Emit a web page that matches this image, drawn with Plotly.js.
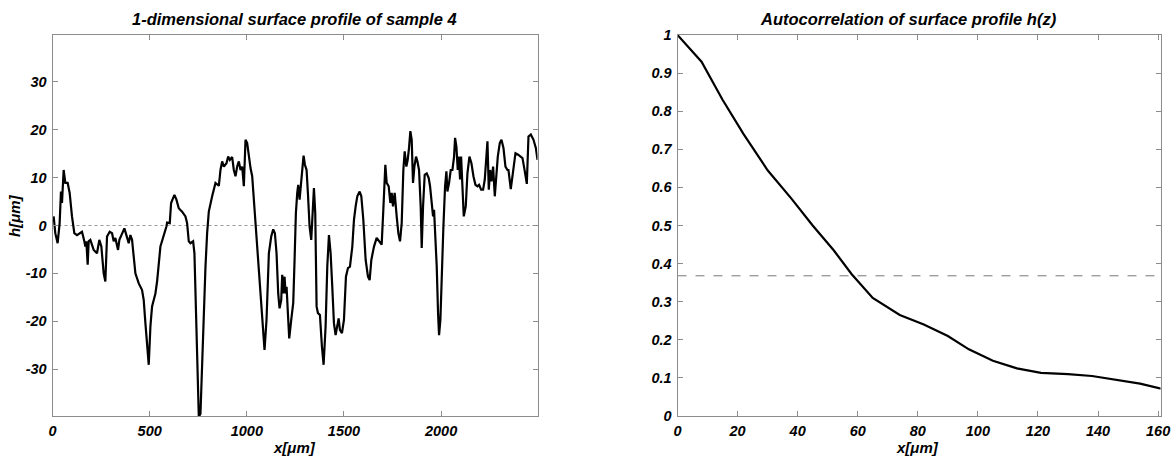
<!DOCTYPE html>
<html>
<head>
<meta charset="utf-8">
<script src="https://cdn.plot.ly/plotly-3.0.1.min.js"></script>
<style>
html,body{margin:0;padding:0;background:#fff;}
#chart{width:1175px;height:456px;}
</style>
</head>
<body>
<div id="chart"></div>
<script>
// ---- Left panel: 1-D surface profile (x in µm, h in µm)
const profileX = [5.8,14.4,26.4,36.8,43.6,48.8,57.4,66,78,88.3,100.3,112.3,126,151.8,163.8,169,174.1,181,186.2,194.7,212,229,241,251.4,263.4,272,280.6,294.4,306.4,315,323.5,337.3,344.2,357.9,369.9,380.2,392.2,400.8,409.4,426.6,443.8,460.9,469.5,478.1,486.7,495.3,503.9,512.4,529.6,538.2,555.4,572.5,586.3,589.7,603.5,610.3,627.5,637.8,649.8,667,684.2,692.7,701.3,709.9,723.7,730.5,739.1,747.7,752.9,
761.5,770,778.7,787.3,795.8,804.4,821.6,838.8,856,864.5,873.1,881.7,895.4,904,912.6,924.6,933.2,941.8,950.4,959,967.6,976.2,984.7,993.3,1001.9,1010.5,1019.1,1027.7,1044.9,1062,1079.2,1091.2,1101.5,1113.5,1125.6,1135.9,1144.5,1153,1161.6,1168.5,1177.1,1182.2,1187.4,1194.3,1199.4,1204.6,1211.4,1218.3,1228.6,1238.9,1245.8,1252.6,1259.5,1264.7,1271.5,1276.7,1285.2,1292.1,1299,1307.6,1314.4,1323,1331.6,1338.5,1345.4,1352.2,1359.1,1366,1376.3,1386.6,1395.2,1405.5,1414.1,1422.7,1431.3,1439.8,1448.4,1457,1465.6,1472.5,1479.3,1489.6,1499.9,1510.2,1520.5,1530.8,
1542.9,1551.5,1560.1,1568.6,1580.7,1589.3,1599.6,1611.6,1623.6,1632.2,1640.8,1654.5,1668.3,1682,1694,1702.6,1712.9,1719.8,1730.1,1738.7,1745.5,1752.4,1761,1771.3,1779.9,1788.5,1797.1,1805.6,1812.5,1821.1,1828,1834.8,1841.7,1848.6,1855.4,1862.3,1870.9,1877.8,1886.3,1894.9,1900.1,1907,1915.5,1925.8,1936.1,1943,1951.6,1958.5,1963.6,1970.5,1977.4,1984.2,1989.4,1996.3,2003.1,2011.7,2020.3,2027.2,2032.3,2040.9,2049.5,2058.1,2066.7,2071.8,2078.7,2085.6,2090.7,2097.6,2102.8,2109.6,2116.5,2126.8,2135.4,2145.7,2156,2166.3,2176.6,2186.9,2195.5,2205.8,2216.1,2224.7,2231.5,2238.4,2245.3,2252.1,2259,2267.6,2276.2,2283,2291.6,2301.9,2310.5,2320.8,2331.1,
2341.4,2346.5,2358.5,2370.6,2382.6,2396.3,2418.7,2430.7,2441,2449.6,2461.6,2475.4,2487.4,2496];
const profileH = [1.9,-1.6,-3.7,0.5,7.1,4.7,11.6,8.9,8.9,6.8,1.9,-1.6,-2.0,-1.3,-3.3,-4.4,-3.3,-8.2,-3.3,-3.0,-5.1,-5.8,-3.0,-4.4,-10.0,-11.7,-2.3,-1.3,-1.6,-3.3,-2.6,-5.1,-3.0,-1.6,-0.6,-2.0,-3.7,-2.0,-3.0,-10.0,-12.1,-13.5,-15.6,-20.4,-25.3,-29.1,-21.1,-16.9,-14.2,-11.7,-4.4,-2.3,-0.2,0.6,0.5,4.7,6.4,5.4,3.6,2.9,1.9,0.5,-3.3,-3.7,-3.3,-5.8,-17.6,-33.0,-40.0,
-39.3,-28.1,-17.6,-8.6,-1.6,2.9,6.1,8.9,8.3,11.6,13.4,12.3,13.0,14.4,13.7,14.3,11.6,10.3,12.3,13.4,11.6,12.3,8.2,17.9,17.2,14.4,12.0,10.3,0.5,-10.7,-19.7,-26.0,-19.7,-5.8,-2.3,-0.8,-1.6,-5.8,-14.2,-17.3,-15.6,-10.3,-14.2,-10.7,-14.2,-12.8,-18.3,-23.6,-19.7,-16.2,-7.2,2.6,6.8,8.5,5.4,8.2,11.6,14.6,12.7,11.6,6.8,-0.2,-3.0,1.9,7.8,2.6,-16.9,-18.3,-18.7,-25.3,-29.1,-21.1,-8.6,-2.0,-5.8,-12.8,-20.4,-22.9,-21.1,-19.4,-21.8,-22.5,-19.7,-10.7,-8.9,-8.6,
-4.4,1.2,4.0,6.1,7.1,6.1,1.2,-7.2,-10.7,-11.4,-7.2,-4.4,-2.6,-3.3,-4.0,3.3,12.7,8.9,8.2,4.7,6.8,4.0,6.8,1.9,-1.6,-3.3,0.5,11.6,15.5,12.3,13.7,16.2,19.7,17.9,8.9,12.3,14.4,13.4,11.6,4.0,-4.7,4.0,10.6,10.9,9.9,8.2,4.0,1.9,3.3,-1.6,-8.6,-18.3,-22.9,-19.7,-10.0,-0.2,8.2,11.3,7.1,8.9,11.6,11.6,14.4,18.3,16.5,11.6,14.4,9.6,14.4,7.5,1.9,4.0,10.9,14.4,13.0,10.3,8.5,8.2,8.5,7.5,7.5,9.6,13.7,17.6,7.5,11.6,9.2,12.3,6.1,10.3,14.4,17.2,17.9,16.2,12.3,
11.6,11.6,7.6,11.6,15.1,14.8,14.1,11.3,8.7,18.6,19.0,17.9,16.2,13.7];
const profileYTicks = [-30,-20,-10,0,10,20,30];
const profileXTicks = [0,500,1000,1500,2000];
const profileRef = 0;

// ---- Right panel: autocorrelation of h(z)
const acLag = [0,8,15,22,30,38,45,52,58,65,74,82,90,97,105,113,121,130,138,146,154,161];
const acVal = [1,0.93,0.83,0.74,0.645,0.57,0.5,0.435,0.372,0.31,0.265,0.24,0.21,0.175,0.145,0.125,0.113,0.11,0.105,0.095,0.085,0.072];
const acYTicks = [0,0.1,0.2,0.3,0.4,0.5,0.6,0.7,0.8,0.9,1];
const acXTicks = [0,20,40,60,80,100,120,140,160];
const acRef = 0.368;

const W = 1175, H = 456;
const px = v => v / W;
const py = v => 1 - v / H;

const tickFont = {family:'"Liberation Sans", Arial, sans-serif', size:14.5, color:'#000', weight:'bold', style:'italic'};
const titleFont = {family:'"Liberation Sans", Arial, sans-serif', size:16.5, color:'#000', weight:'bold', style:'italic'};
const labFont = {family:'"Liberation Sans", Arial, sans-serif', size:15, color:'#000', weight:'bold', style:'italic'};

function axis(extra){
  return Object.assign({
    showgrid:false, zeroline:false, showline:true, linecolor:'#8c8c8c', linewidth:1,
    mirror:'ticks', ticks:'inside', ticklen:5, tickcolor:'#8c8c8c', tickwidth:1,
    tickfont:tickFont, fixedrange:true
  }, extra);
}

const traces = [
  {x:profileX, y:profileH, type:'scatter', mode:'lines', line:{color:'#000', width:2.2}, xaxis:'x', yaxis:'y', hoverinfo:'skip'},
  {x:acLag, y:acVal, type:'scatter', mode:'lines', line:{color:'#000', width:2.2}, xaxis:'x2', yaxis:'y2', hoverinfo:'skip'}
];

const layout = {
  width:W, height:H, margin:{l:0,r:0,t:0,b:0}, showlegend:false,
  paper_bgcolor:'#fff', plot_bgcolor:'#fff',
  xaxis: axis({domain:[px(52.5), px(537.5)], range:[0,2496], tickvals:profileXTicks, ticktext:profileXTicks.map(String), anchor:'y', ticklabelstandoff:2}),
  yaxis: axis({domain:[py(416), py(35)], range:[-39.8,39.8], tickvals:profileYTicks, ticktext:profileYTicks.map(String), anchor:'x', ticklabelstandoff:2}),
  xaxis2: axis({domain:[px(677.5), px(1160.5)], range:[0,160.8], tickvals:acXTicks, ticktext:acXTicks.map(String), anchor:'y2', ticklabelstandoff:2}),
  yaxis2: axis({domain:[py(416), py(35)], range:[0,1], tickvals:acYTicks, ticktext:acYTicks.map(String), anchor:'x2', ticklabelstandoff:2}),
  shapes:[
    {type:'line', xref:'x domain', yref:'y', x0:0, x1:1, y0:profileRef, y1:profileRef, line:{color:'#999', width:1, dash:'dot'}, layer:'below'},
    {type:'line', xref:'x2 domain', yref:'y2', x0:0, x1:1, y0:acRef, y1:acRef, line:{color:'#777', width:1, dash:'dash'}, layer:'below'}
  ],
  annotations:[
    {text:'1-dimensional surface profile of sample 4', xref:'paper', yref:'paper', x:px(295), y:py(19), xanchor:'center', yanchor:'middle', showarrow:false, font:titleFont},
    {text:'Autocorrelation of surface profile h(z)', xref:'paper', yref:'paper', x:px(908), y:py(19), xanchor:'center', yanchor:'middle', showarrow:false, font:titleFont},
    {text:'x[μm]', xref:'paper', yref:'paper', x:px(295), y:py(447), xanchor:'center', yanchor:'middle', showarrow:false, font:labFont},
    {text:'x[μm]', xref:'paper', yref:'paper', x:px(917), y:py(447), xanchor:'center', yanchor:'middle', showarrow:false, font:labFont},
    {text:'h[μm]', xref:'paper', yref:'paper', x:px(15), y:py(216), xanchor:'center', yanchor:'middle', showarrow:false, textangle:-90, font:labFont}
  ]
};

Plotly.newPlot('chart', traces, layout, {staticPlot:true, displayModeBar:false});
</script>
</body>
</html>
